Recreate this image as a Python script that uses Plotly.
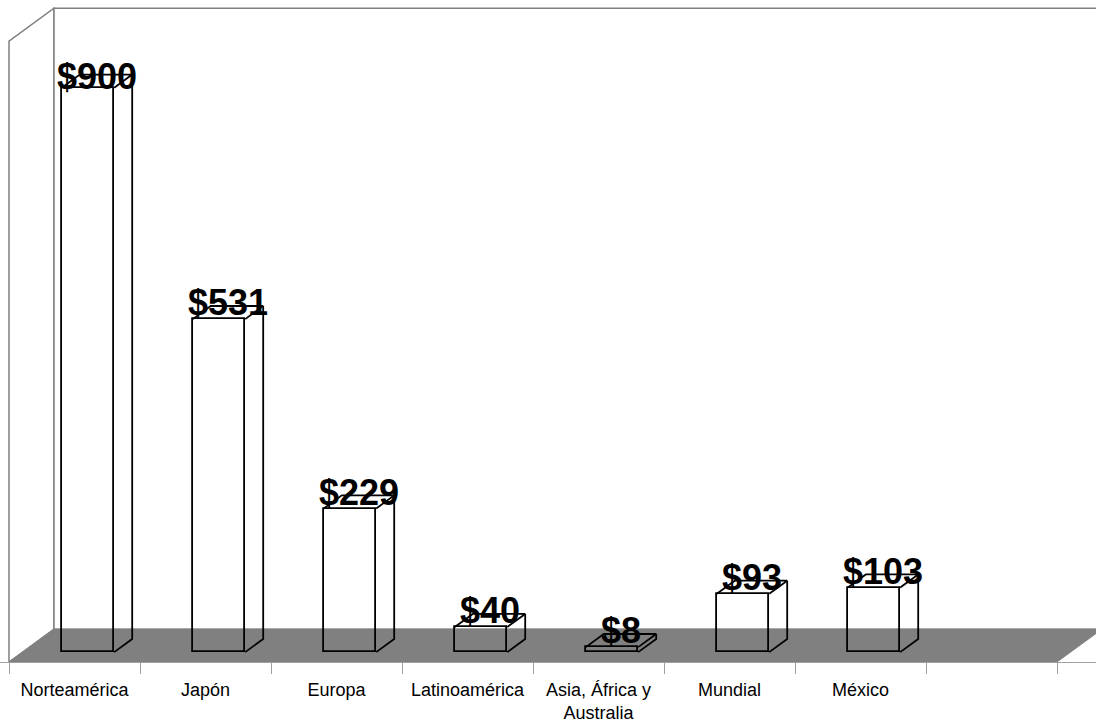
import plotly.graph_objects as go

# Ventas por región (valores en dólares)
categories = ["Norteamérica", "Japón", "Europa", "Latinoamérica",
              "Asia, África y<br>Australia", "Mundial", "México"]
values = [900, 531, 229, 40, 8, 93, 103]
value_labels = ["$900", "$531", "$229", "$40", "$8", "$93", "$103"]

# --- oblique 3-D projection helpers -------------------------------------
N_SLOTS = 8                 # category slots along the floor (last one empty)
PX_PER_SLOT = 131.0         # horizontal pixels per category slot
PX_PER_UNIT = 0.63          # vertical pixels per value unit
DEPTH_PX_X = 45.0           # floor depth, horizontal pixels
DEPTH_PX_Y = 33.0           # floor depth, vertical pixels
DX = DEPTH_PX_X / PX_PER_SLOT
DY = DEPTH_PX_Y / PX_PER_UNIT
WALL_TOP = 990              # wall height in value units
BAR_W = 0.4                 # bar width as a fraction of a slot
D_FRONT, D_BACK = 0.3, 0.7  # bar depth span (fraction of floor depth)
LABEL_CEIL = 928            # keep value labels below the wall top

W, H = 1096, 723
MARGIN_B = 58
plot_h = H - MARGIN_B
x_lo = -0.5 - 9 / PX_PER_SLOT
x_hi = x_lo + W / PX_PER_SLOT
y_hi = plot_h / PX_PER_UNIT


def proj(x, v, d):
    """Project (slot, value, depth) onto the 2-D data plane."""
    return x + d * DX, v + d * DY


WALL_LINE = "#808080"
FLOOR_FILL = "#808080"

fig = go.Figure()

# Walls and floor as filled polygons
xl, xr = -0.5, N_SLOTS - 0.5
floor = [proj(xl, 0, 0), proj(xr, 0, 0), proj(xr, 0, 1), proj(xl, 0, 1)]
left_wall = [proj(xl, 0, 0), proj(xl, WALL_TOP, 0), proj(xl, WALL_TOP, 1), proj(xl, 0, 1)]
back_wall = [proj(xl, 0, 1), proj(xl, WALL_TOP, 1), proj(xr, WALL_TOP, 1), proj(xr, 0, 1)]


def poly_path(pts):
    return "M " + " L ".join(f"{px},{py}" for px, py in pts) + " Z"


fig.add_shape(type="path", path=poly_path(left_wall), fillcolor="white",
              line=dict(color=WALL_LINE, width=1.5), layer="below")
fig.add_shape(type="path", path=poly_path(back_wall), fillcolor="white",
              line=dict(color=WALL_LINE, width=1.5), layer="below")
fig.add_shape(type="path", path=poly_path(floor), fillcolor=FLOOR_FILL,
              line=dict(color=FLOOR_FILL, width=1), layer="below")

# Front faces of the bars
slots = list(range(len(categories)))
fig.add_trace(go.Bar(
    x=[proj(i, 0, D_FRONT)[0] for i in slots],
    y=values,
    base=[D_FRONT * DY] * len(values),
    width=BAR_W,
    marker=dict(color="rgba(0,0,0,0)", line=dict(color="black", width=1.8)),
    hoverinfo="skip",
    showlegend=False,
))

# Top and right-side faces of the bars
ex, ey = [], []
for i, v in zip(slots, values):
    x0, x1 = i - BAR_W / 2, i + BAR_W / 2
    ftl = proj(x0, v, D_FRONT)
    ftr = proj(x1, v, D_FRONT)
    fbr = proj(x1, 0, D_FRONT)
    btl = proj(x0, v, D_BACK)
    btr = proj(x1, v, D_BACK)
    bbr = proj(x1, 0, D_BACK)
    for p in (ftl, btl, btr, ftr):
        ex.append(p[0]); ey.append(p[1])
    ex.append(None); ey.append(None)
    for p in (btr, bbr, fbr):
        ex.append(p[0]); ey.append(p[1])
    ex.append(None); ey.append(None)

fig.add_trace(go.Scatter(
    x=ex, y=ey, mode="lines",
    line=dict(color="black", width=1.8),
    hoverinfo="skip", showlegend=False,
))

# Value labels above each bar
d_mid = (D_FRONT + D_BACK) / 2
lab_x = [proj(i, 0, d_mid)[0] for i in slots]
lab_y = [min(v + D_FRONT * DY + 13 / PX_PER_UNIT, LABEL_CEIL) for v in values]
fig.add_trace(go.Scatter(
    x=lab_x, y=lab_y, mode="text",
    text=[f"<b>{t}</b>" for t in value_labels],
    textposition="middle center",
    textfont=dict(family="Liberation Sans, Arial", size=36, color="black"),
    hoverinfo="skip", showlegend=False, cliponaxis=False,
))

fig.update_layout(
    width=W, height=H,
    margin=dict(l=0, r=0, t=0, b=MARGIN_B),
    paper_bgcolor="white",
    plot_bgcolor="white",
    bargap=0,
    font=dict(family="Liberation Sans, Arial", size=18, color="black"),
    xaxis=dict(
        range=[x_lo, x_hi],
        tickmode="array",
        tickvals=list(range(N_SLOTS)),
        ticktext=categories + [""],
        ticks="outside", ticklen=11, tickcolor="rgba(0,0,0,0)",
        showgrid=False, zeroline=False,
        showline=True, linecolor="#a0a0a0", linewidth=1,
        minor=dict(
            tickmode="array",
            tickvals=[k - 0.5 for k in range(N_SLOTS + 1)],
            ticks="outside", ticklen=11, tickcolor="#a0a0a0", tickwidth=1,
            showgrid=False,
        ),
        tickfont=dict(size=18),
        fixedrange=True,
    ),
    yaxis=dict(range=[0, y_hi], visible=False, fixedrange=True),
)

fig.write_html("out.html")
